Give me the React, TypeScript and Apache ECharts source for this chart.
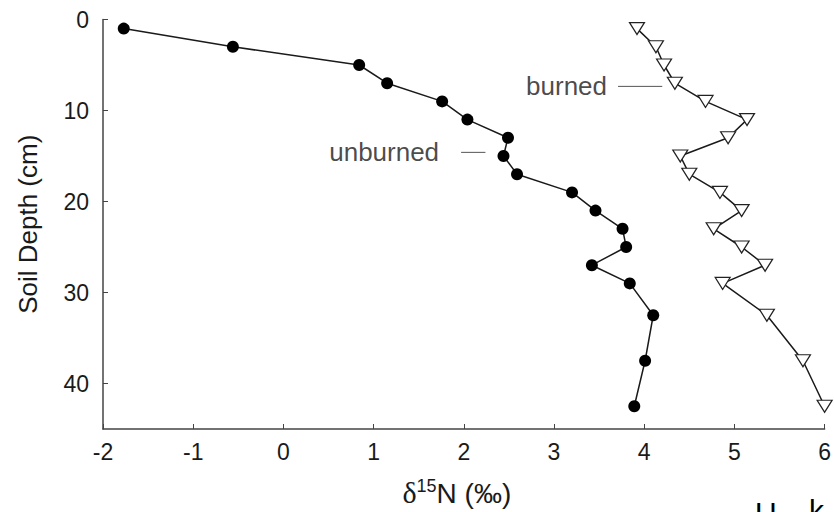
import React, { useEffect, useRef } from "react";
import * as echarts from "echarts";

const depths = [1, 3, 5, 7, 9, 11, 13, 15, 17, 19, 21, 23, 25, 27, 29, 32.5, 37.5, 42.5];
const unburned = [-1.77, -0.56, 0.84, 1.15, 1.76, 2.04, 2.49, 2.44, 2.59, 3.2, 3.46, 3.76, 3.8, 3.42, 3.84, 4.1, 4.01, 3.89];
const burned = [3.92, 4.13, 4.22, 4.34, 4.68, 5.14, 4.93, 4.4, 4.5, 4.84, 5.08, 4.77, 5.08, 5.34, 4.87, 5.36, 5.76, 6.0];
const xTicks = { min: -2, max: 6, interval: 1 };
const yTicks = { min: 0, max: 45, interval: 10 };
// annotation leaders: [x1, x2, depth]
const unburnedLeader = [1.97, 2.24, 14.6];
const burnedLeader = [3.71, 4.2, 7.35];

export default function App() {
  const ref = useRef<HTMLDivElement>(null);
  useEffect(() => {
    if (!ref.current) return;
    const chart = echarts.init(ref.current, null, { renderer: "svg" });
    const font = "Liberation Sans, Arial, sans-serif";
    const txt = "#1a1a1a";
    const lineColor = "#1a1a1a";
    chart.setOption({
      animation: false,
      backgroundColor: "#ffffff",
      grid: { left: 103, top: 19.5, right: 9, bottom: 79 },
      xAxis: {
        type: "value",
        position: "bottom",
        min: xTicks.min,
        max: xTicks.max,
        interval: xTicks.interval,
        splitLine: { show: false },
        axisLine: { onZero: false, lineStyle: { color: "#444", width: 1.5 } },
        axisTick: { inside: true, length: 5, lineStyle: { color: "#444" } },
        axisLabel: { color: txt, fontSize: 23, fontFamily: font, margin: 11 },
        name: "{d|δ}{s|15}{n|N (‰)}",
        nameLocation: "middle",
        nameGap: 48,
        nameTextStyle: {
          padding: [0, 14, 0, 0],
          rich: {
            d: { fontSize: 30, fontFamily: "Liberation Serif, serif", color: txt, lineHeight: 30, verticalAlign: "bottom" },
            s: { fontSize: 18, fontFamily: font, color: txt, lineHeight: 30, verticalAlign: "top" },
            n: { fontSize: 28, fontFamily: font, color: txt, lineHeight: 30, verticalAlign: "bottom" },
          },
        },
      },
      yAxis: {
        type: "value",
        position: "left",
        inverse: true,
        min: yTicks.min,
        max: yTicks.max,
        interval: yTicks.interval,
        splitLine: { show: false },
        axisLine: { onZero: false, lineStyle: { color: "#444", width: 1.5 } },
        axisTick: { inside: true, length: 5, lineStyle: { color: "#444" } },
        axisLabel: { color: txt, fontSize: 23, fontFamily: font, margin: 14, showMaxLabel: false },
        name: "Soil Depth (cm)",
        nameLocation: "middle",
        nameGap: 62,
        nameTextStyle: { color: txt, fontSize: 26, fontFamily: font },
      },
      graphic: [
        { type: "text", left: 755, top: 497, style: { text: "U", fontSize: 30, fontFamily: font, fill: "#000" } },
        { type: "text", left: 809, top: 495, style: { text: "k", fontSize: 30, fontFamily: font, fill: "#000" } },
      ],
      series: [
        {
          name: "unburned",
          type: "line",
          data: unburned.map((v, i) => [v, depths[i]]),
          symbol: "circle",
          symbolSize: 12,
          itemStyle: { color: "#000" },
          lineStyle: { color: lineColor, width: 1.5 },
          z: 3,
        },
        {
          name: "burned",
          type: "line",
          data: burned.map((v, i) => [v, depths[i]]),
          symbol: "triangle",
          symbolRotate: 180,
          symbolSize: [15, 12],
          itemStyle: { color: "#fff", borderColor: "#222", borderWidth: 1.2 },
          lineStyle: { color: lineColor, width: 1.5 },
          z: 3,
        },
        {
          type: "line",
          data: [[unburnedLeader[0], unburnedLeader[2]], [unburnedLeader[1], unburnedLeader[2]]],
          showSymbol: false,
          symbol: "none",
          lineStyle: { color: "#555", width: 1 },
          silent: true,
        },
        {
          type: "line",
          data: [[burnedLeader[0], burnedLeader[2]], [burnedLeader[1], burnedLeader[2]]],
          showSymbol: false,
          symbol: "none",
          lineStyle: { color: "#555", width: 1 },
          silent: true,
        },
        {
          type: "scatter",
          symbolSize: 0,
          silent: true,
          data: [
            { value: [unburnedLeader[0], unburnedLeader[2]], label: { show: true, formatter: "unburned", position: "left", distance: 22 } },
            { value: [burnedLeader[0], burnedLeader[2]], label: { show: true, formatter: "burned", position: "left", distance: 11 } },
          ],
          label: { color: txt, fontSize: 26, fontFamily: font },
        },
      ],
    });
    return () => chart.dispose();
  }, []);
  return <div ref={ref} style={{ position: "absolute", left: 0, top: 0, width: 834, height: 512 }} />;
}
